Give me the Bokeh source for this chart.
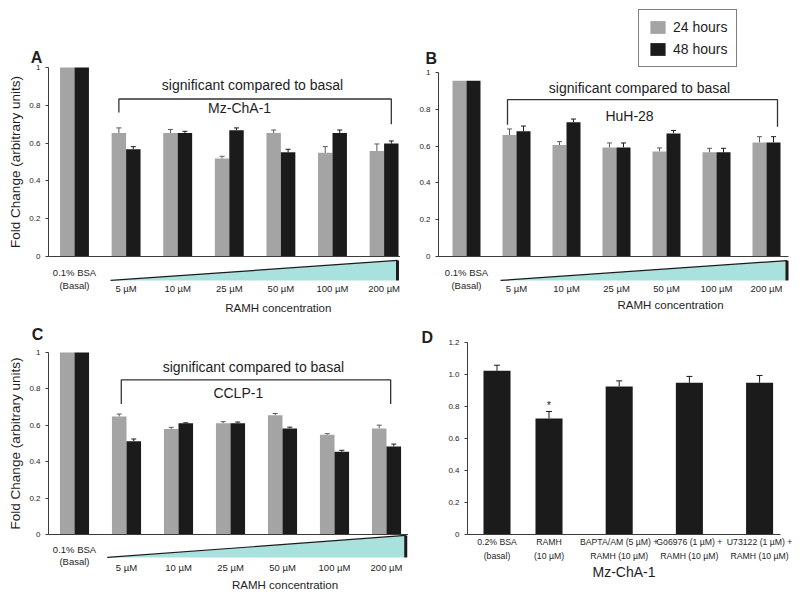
from bokeh.plotting import figure
from bokeh.models import (Range1d, FixedTicker, Legend, LegendItem,
                          Whisker, TeeHead, ColumnDataSource, PrintfTickFormatter)
from bokeh.layouts import column, row
from bokeh.core.properties import value
from bokeh.transform import dodge
from bokeh.embed import file_html
from bokeh.resources import INLINE

FONT = "Liberation Sans"
GRAY = "#a4a4a4"
GRAY_ERR = "#5a5a5a"
BLACK = "#1b1b1b"
CYAN = "#a9e2dc"
AXIS = "#3c3c3c"
TXT = "#1e1e1e"

# ---------------- data ----------------
conc_categories = ["0.1% BSA\n(Basal)", "5 µM", "10 µM", "25 µM", "50 µM", "100 µM", "200 µM"]
series_labels = ["24 hours", "48 hours"]
ramh_title = "RAMH concentration"
bracket_text = "significant compared to basal"
fold_label = "Fold Change (arbitrary units)"
fold_ticks = [0, 0.2, 0.4, 0.6, 0.8, 1]

a_cell = "Mz-ChA-1"
a_24 = [1.00, 0.653, 0.653, 0.518, 0.653, 0.548, 0.558]
a_24_err = [0, 0.027, 0.019, 0.012, 0.016, 0.033, 0.037]
a_48 = [1.00, 0.567, 0.653, 0.667, 0.551, 0.653, 0.597]
a_48_err = [0, 0.014, 0.009, 0.013, 0.016, 0.016, 0.014]

b_cell = "HuH-28"
b_24 = [0.955, 0.660, 0.606, 0.593, 0.571, 0.566, 0.620]
b_24_err = [0, 0.033, 0.018, 0.024, 0.019, 0.022, 0.031]
b_48 = [0.955, 0.680, 0.729, 0.593, 0.669, 0.566, 0.620]
b_48_err = [0, 0.029, 0.018, 0.024, 0.016, 0.022, 0.031]

c_cell = "CCLP-1"
c_24 = [1.00, 0.649, 0.580, 0.612, 0.656, 0.548, 0.583]
c_24_err = [0, 0.013, 0.009, 0.008, 0.009, 0.006, 0.018]
c_48 = [1.00, 0.512, 0.611, 0.612, 0.583, 0.455, 0.484]
c_48_err = [0, 0.013, 0.003, 0.006, 0.007, 0.008, 0.013]

d_labels = ["0.2% BSA\n(basal)", "RAMH\n(10 µM)", "BAPTA/AM (5 µM) +\nRAMH (10 µM)",
            "Gö6976 (1 µM) +\nRAMH (10 µM)", "U73122 (1 µM) +\nRAMH (10 µM)"]
d_values = [1.023, 0.725, 0.925, 0.948, 0.948]
d_err = [0.035, 0.044, 0.035, 0.040, 0.046]
d_significant = [False, True, False, False, False]
d_ticks = [0, 0.2, 0.4, 0.6, 0.8, 1.0, 1.2]
d_xlabel = "Mz-ChA-1"

# ---------------- layout (positions in data units of each panel) ----------------
LAY_A = dict(w=400, h=314, xr=(-1.434, 6.318), yr=(-0.307, 1.354), yax=-0.504, xend=6.318,
             basal_y=-0.119, conc_y=-0.17, title_x=3.95, title_y=-0.270,
             wx0=0.70, wx1=6.26, wt=-0.021, wb=-0.127,
             by=0.833, bdl=0.762, bdr=0.70, bxl=-0.14, bxr=0.14,
             sx=3.45, sy=0.905, cx=3.2, cy=0.783, lx=-0.85, ly=1.05)
LAY_B = dict(w=392, h=314, xr=(-1.32, 6.52), yr=(-0.315, 1.391), yax=-0.56, xend=6.44,
             basal_y=-0.122, conc_y=-0.175, title_x=4.08, title_y=-0.266,
             wx0=0.68, wx1=6.41, wt=-0.022, wb=-0.13,
             by=0.852, bdl=0.716, bdr=0.705, bxl=-0.18, bxr=0.22,
             sx=3.46, sy=0.913, cx=3.26, cy=0.766, lx=-0.82, ly=1.076)
LAY_C = dict(w=408, h=283, xr=(-1.423, 6.423), yr=(-0.346, 1.209), yax=-0.5, xend=6.423,
             basal_y=-0.113, conc_y=-0.182, title_x=4.05, title_y=-0.280,
             wx0=0.63, wx1=6.37, wt=-0.005, wb=-0.126,
             by=0.85, bdl=0.717, bdr=0.717, bxl=-0.10, bxr=0.08,
             sx=3.44, sy=0.918, cx=3.15, cy=0.775, lx=-0.82, ly=1.10)


def new_fig(w, h, xr, yr):
    p = figure(width=w, height=h, x_range=Range1d(*xr), y_range=Range1d(*yr),
               output_backend="svg", toolbar_location=None,
               min_border_left=0, min_border_right=0, min_border_top=0, min_border_bottom=0)
    p.outline_line_color = None
    p.grid.visible = False
    return p


def style_yaxis(ax, loc, bounds, ticks, fmt, label=None):
    ax.fixed_location = loc
    ax.bounds = bounds
    ax.ticker = FixedTicker(ticks=ticks)
    ax.formatter = PrintfTickFormatter(format=fmt)
    ax.axis_line_color = AXIS
    ax.major_tick_line_color = AXIS
    ax.major_tick_out = 3
    ax.major_tick_in = 0
    ax.minor_tick_out = 0
    ax.minor_tick_in = 0
    ax.major_label_text_font = FONT
    ax.major_label_text_font_size = "8px"
    ax.major_label_text_color = TXT
    ax.major_label_standoff = 5
    if label:
        ax.axis_label = label
        ax.axis_label_text_font = FONT
        ax.axis_label_text_font_size = "13.5px"
        ax.axis_label_text_font_style = "normal"
        ax.axis_label_text_color = TXT
        ax.axis_label_standoff = 3


def txt(p, x, y, s, size, align="center", baseline="middle", style="normal", lh=1.2):
    p.text(x=x, y=y, text=s, text_font=value(FONT), text_font_size=size,
           text_align=align, text_baseline=baseline, text_color=TXT,
           text_font_style=style, text_line_height=lh)


def conc_panel(letter, cell, v24, e24, v48, e48, L, ylabel=None, legend_loc=None):
    idx = list(range(len(conc_categories)))
    p = new_fig(L["w"], L["h"], L["xr"], L["yr"])
    off, bw = 0.14, 0.28
    src = ColumnDataSource(dict(x=idx, v24=v24, v48=v48))
    r24 = p.vbar(x=dodge("x", -off), top="v24", width=bw, source=src, fill_color=GRAY, line_color=None)
    r48 = p.vbar(x=dodge("x", off), top="v48", width=bw, source=src, fill_color=BLACK, line_color=None)
    for vals, errs, sign, col in ((v24, e24, -1, GRAY_ERR), (v48, e48, 1, BLACK)):
        keep = [i for i in idx if errs[i] > 0]
        wsrc = ColumnDataSource(dict(x=[i + sign * off for i in keep],
                                     lo=[vals[i] for i in keep],
                                     hi=[vals[i] + errs[i] for i in keep]))
        p.add_layout(Whisker(base="x", lower="lo", upper="hi", source=wsrc, dimension="height",
                             line_color=col, line_width=1, lower_head=None,
                             upper_head=TeeHead(size=5, line_color=col, line_width=1)))
    # x axis: a bare line at y = 0
    xa = p.xaxis[0]
    xa.fixed_location = 0
    xa.bounds = (L["yax"], L["xend"])
    xa.ticker = FixedTicker(ticks=[])
    xa.major_tick_out = 0
    xa.major_tick_in = 0
    xa.minor_tick_out = 0
    xa.minor_tick_in = 0
    xa.major_label_text_font_size = "0px"
    xa.axis_line_color = AXIS
    # concentration wedge
    p.patch(x=[L["wx0"], L["wx1"], L["wx1"]], y=[L["wb"], L["wt"], L["wb"]],
            fill_color=CYAN, line_color=None)
    p.line(x=[L["wx0"], L["wx1"]], y=[L["wb"], L["wt"]], line_color=BLACK, line_width=1.2)
    p.line(x=[L["wx1"], L["wx1"]], y=[L["wt"], L["wb"]], line_color=BLACK, line_width=3)
    # bracket
    first, last = idx[1], idx[-1]
    p.line(x=[first + L["bxl"], first + L["bxl"], last + L["bxr"], last + L["bxr"]],
           y=[L["bdl"], L["by"], L["by"], L["bdr"]], line_color="#333333", line_width=1.3)
    txt(p, [L["sx"]], [L["sy"]], [bracket_text], "14px")
    txt(p, [L["cx"]], [L["cy"]], [cell], "14px")
    # category labels
    txt(p, [idx[0]], [L["basal_y"]], [conc_categories[0]], "9.5px", lh=1.1)
    txt(p, idx[1:], [L["conc_y"]] * (len(idx) - 1), conc_categories[1:], "9.5px")
    txt(p, [L["title_x"]], [L["title_y"]], [ramh_title], "11.5px")
    # panel letter
    txt(p, [L["lx"]], [L["ly"]], [letter], "16px", align="left", baseline="alphabetic", style="bold")
    style_yaxis(p.yaxis[0], L["yax"], (0, 1), fold_ticks, "%g", ylabel)
    if legend_loc is not None:
        leg = Legend(items=[LegendItem(label=series_labels[0], renderers=[r24]),
                            LegendItem(label=series_labels[1], renderers=[r48])],
                     location=legend_loc, border_line_color="black", border_line_width=1,
                     glyph_width=19, glyph_height=16, label_height=16, label_standoff=6,
                     spacing=6, padding=9, margin=0,
                     label_text_font=FONT, label_text_font_size="14px", label_text_color=TXT)
        p.add_layout(leg)
    return p


pA = conc_panel("A", a_cell, a_24, a_24_err, a_48, a_48_err, LAY_A, ylabel=fold_label)
pB = conc_panel("B", b_cell, b_24, b_24_err, b_48, b_48_err, LAY_B, legend_loc=(238, 247))
pC = conc_panel("C", c_cell, c_24, c_24_err, c_48, c_48_err, LAY_C, ylabel=fold_label)

# ---------------- panel D ----------------
d_gap = 1.35
d_pos = [float(i) if i < 2 else 1 + (i - 1) * d_gap for i in range(len(d_labels))]
D_YAX, D_XEND = -0.567, 5.452
pD = new_fig(384, 283, (-1.702, 5.683), (-0.394, 1.375))
dsrc = ColumnDataSource(dict(x=d_pos, v=d_values, hi=[v + e for v, e in zip(d_values, d_err)]))
pD.vbar(x="x", top="v", width=0.52, source=dsrc, fill_color=BLACK, line_color=None)
pD.add_layout(Whisker(base="x", lower="v", upper="hi", source=dsrc, dimension="height",
                      line_color=BLACK, line_width=1, lower_head=None,
                      upper_head=TeeHead(size=6, line_color=BLACK, line_width=1)))
sig_x = [d_pos[i] for i in range(len(d_pos)) if d_significant[i]]
sig_y = [d_values[i] + d_err[i] for i in range(len(d_pos)) if d_significant[i]]
txt(pD, sig_x, sig_y, ["*"] * len(sig_x), "11px", baseline="bottom")
txt(pD, [-1.45], [1.23], ["D"], "16px", align="left", baseline="alphabetic", style="bold")
style_yaxis(pD.yaxis[0], D_YAX, (0, 1.2), d_ticks, "%.1f")
pD.yaxis[0].major_label_overrides = {0: "0"}
xa = pD.xaxis[0]
xa.fixed_location = 0
xa.bounds = (D_YAX, D_XEND)
xa.ticker = FixedTicker(ticks=d_pos)
xa.major_label_overrides = {p: l for p, l in zip(d_pos, d_labels)}
xa.axis_line_color = AXIS
xa.major_tick_out = 0
xa.major_tick_in = 0
xa.minor_tick_out = 0
xa.minor_tick_in = 0
xa.major_label_text_font = FONT
xa.major_label_text_font_size = "8.7px"
xa.major_label_text_color = TXT
xa.major_label_text_line_height = 1.35
xa.major_label_standoff = 3
xa.axis_label = d_xlabel
xa.axis_label_text_font = FONT
xa.axis_label_text_font_size = "14px"
xa.axis_label_text_font_style = "normal"
xa.axis_label_text_color = TXT
xa.axis_label_standoff = 0

layout = column(row(pA, pB), row(pC, pD))
open("out.html", "w").write(file_html(layout, INLINE))
